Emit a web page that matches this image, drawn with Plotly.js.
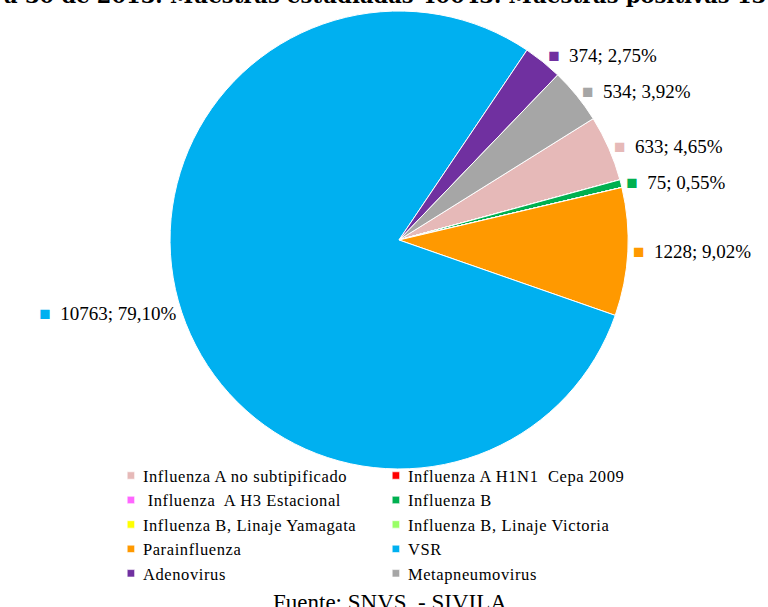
<!DOCTYPE html>
<html>
<head>
<meta charset="utf-8">
<script src="https://cdn.plot.ly/plotly-3.0.1.min.js"></script>
<style>
body{margin:0;background:#fff}
#plot .legendtext{letter-spacing:0.6px}
#plot path.legendpie{transform:translate(28px,0px) scale(0.62)}
</style>
</head>
<body>
<div id="plot" style="width:768px;height:607px"></div>
<script>
var labels = [
  'Influenza A no subtipificado',
  'Influenza A H1N1\u00a0 Cepa 2009',
  '\u00a0Influenza\u00a0 A H3 Estacional',
  'Influenza B',
  'Influenza B, Linaje Yamagata',
  'Influenza B, Linaje Victoria',
  'Parainfluenza',
  'VSR',
  'Adenovirus',
  'Metapneumovirus'
];
var values = [633, 0, 0, 75, 0, 0, 1228, 10763, 374, 534];
var colors = ['#E6B9B8', '#FF0000', '#FF66FF', '#00B050', '#FFFF00', '#99FF66', '#FF9900', '#00B0F0', '#7030A0', '#A6A6A6'];

// etiquetas "valor; porcentaje" con el cuadrado de color, vacias para los ceros
var templates = values.map(function (v, i) {
  if (v === 0) return '';
  return '<span style="color:' + colors[i] + '">\u25A0</span>  %{value:.0f}; %{percent:.2%}';
});

var trace = {
  type: 'pie',
  labels: labels,
  values: values,
  sort: false,
  direction: 'clockwise',
  rotation: 58,
  marker: {colors: colors, line: {color: '#ffffff', width: 1}},
  texttemplate: templates,
  textposition: 'outside',
  outsidetextfont: {family: 'Liberation Serif', size: 19, color: '#000'},
  hoverinfo: 'label+value+percent',
  domain: {x: [0.2214, 0.8177], y: [0.2273, 0.9819]}
};

var layout = {
  width: 768,
  height: 607,
  margin: {l: 0, r: 0, t: 0, b: 0},
  separators: ',.',
  font: {family: 'Liberation Serif', size: 17, color: '#000'},
  paper_bgcolor: '#fff',
  showlegend: true,
  legend: {
    orientation: 'h',
    x: 0.134,
    xanchor: 'left',
    y: 0.245,
    yanchor: 'top',
    entrywidth: 220,
    font: {family: 'Liberation Serif', size: 16.5, color: '#000'},
    bgcolor: 'rgba(0,0,0,0)'
  },
  annotations: [
    {
      text: 'a 30 de 2013. Muestras estudiadas 40043. Muestras positivas 13607',
      xref: 'paper', yref: 'paper',
      x: 0, xanchor: 'left', xshift: 2,
      y: 1, yanchor: 'bottom', yshift: -10,
      showarrow: false,
      font: {family: 'DejaVu Serif', size: 21, color: '#000', weight: 'bold'}
    },
    {
      text: 'Fuente: SNVS \u00a0- SIVILA',
      xref: 'paper', yref: 'paper',
      x: 0.508, xanchor: 'center',
      y: 0, yanchor: 'middle', yshift: 5,
      showarrow: false,
      font: {family: 'Liberation Serif', size: 23, color: '#000'}
    }
  ]
};

Plotly.newPlot('plot', [trace], layout, {displayModeBar: false});
</script>
</body>
</html>
